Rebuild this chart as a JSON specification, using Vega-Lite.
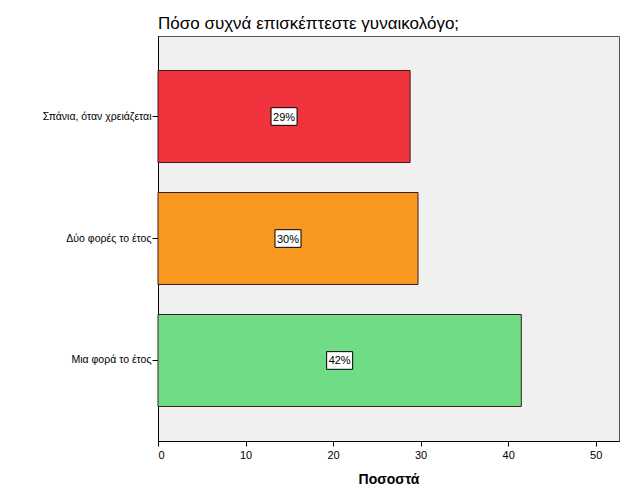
{
  "$schema": "https://vega.github.io/schema/vega-lite/v6.json",
  "autosize": {"type": "none"},
  "padding": {"left": 158, "top": 36, "right": 7, "bottom": 60},
  "width": 461,
  "height": 405,
  "background": "white",
  "config": {
    "font": "Liberation Sans",
    "view": {"fill": "#F0F0F0", "stroke": "#555555", "strokeWidth": 1}
  },
  "title": {
    "text": "Πόσο συχνά επισκέπτεστε γυναικολόγο;",
    "anchor": "start",
    "frame": "group",
    "fontSize": 17,
    "fontWeight": "normal",
    "font": "Liberation Sans",
    "color": "#000000",
    "offset": 3
  },
  "data": {
    "values": [
      {"category": "Σπάνια, όταν χρειάζεται", "value": 28.8, "label": "29%"},
      {"category": "Δύο φορές το έτος", "value": 29.7, "label": "30%"},
      {"category": "Μια φορά το έτος", "value": 41.5, "label": "42%"}
    ]
  },
  "encoding": {
    "y": {
      "field": "category",
      "type": "nominal",
      "sort": ["Σπάνια, όταν χρειάζεται", "Δύο φορές το έτος", "Μια φορά το έτος"],
      "scale": {"paddingInner": 0.246, "paddingOuter": 0.283},
      "axis": {
        "title": null,
        "labelFontSize": 10.5,
        "labelColor": "#000000",
        "labelPadding": 1,
        "tickSize": 6,
        "tickColor": "#000000",
        "domainColor": "#000000",
        "labelLimit": 200
      }
    }
  },
  "layer": [
    {
      "mark": {"type": "bar", "stroke": "#3a1e1e", "strokeWidth": 1},
      "encoding": {
        "x": {
          "field": "value",
          "type": "quantitative",
          "scale": {"domain": [0, 52.66], "nice": false},
          "axis": {
            "title": "Ποσοστά",
            "titleFontSize": 14,
            "titleFontWeight": "bold",
            "titleColor": "#000000",
            "titlePadding": 12,
            "values": [0, 10, 20, 30, 40, 50],
            "labelFontSize": 11,
            "labelColor": "#000000",
            "labelPadding": 3,
            "tickSize": 5,
            "tickColor": "#000000",
            "domainColor": "#000000",
            "grid": false
          }
        },
        "color": {
          "field": "category",
          "type": "nominal",
          "scale": {
            "domain": ["Σπάνια, όταν χρειάζεται", "Δύο φορές το έτος", "Μια φορά το έτος"],
            "range": ["#F0333C", "#F8981F", "#70DC85"]
          },
          "legend": null
        }
      }
    },
    {
      "transform": [{"calculate": "datum.value / 2", "as": "mid"}],
      "mark": {
        "type": "point",
        "shape": "M-1,-0.68L1,-0.68L1,0.68L-1,0.68Z",
        "size": 676,
        "filled": true,
        "fill": "white",
        "stroke": "#000000",
        "strokeWidth": 1,
        "opacity": 1
      },
      "encoding": {
        "x": {"field": "mid", "type": "quantitative"}
      }
    },
    {
      "transform": [{"calculate": "datum.value / 2", "as": "mid"}],
      "mark": {"type": "text", "fontSize": 11, "color": "#000000", "align": "center", "baseline": "middle", "dy": 1},
      "encoding": {
        "x": {"field": "mid", "type": "quantitative"},
        "text": {"field": "label"}
      }
    }
  ]
}
